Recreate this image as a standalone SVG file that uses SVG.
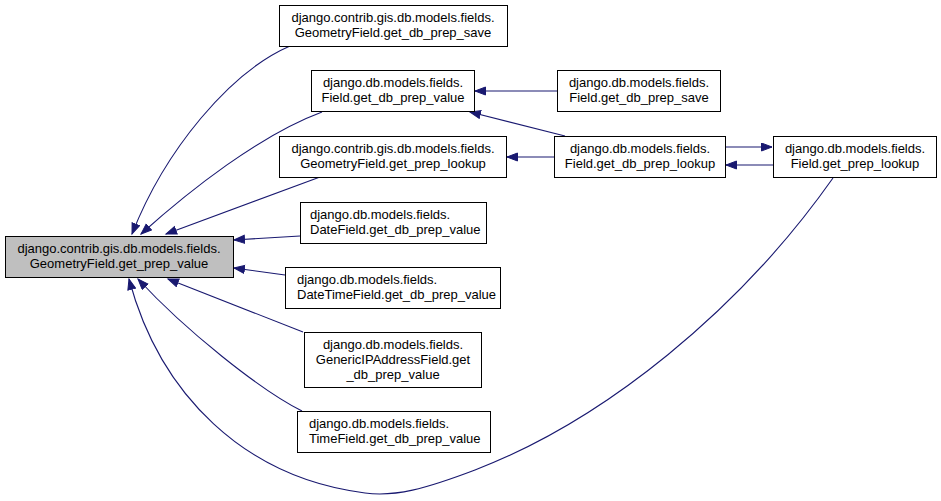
<svg xmlns="http://www.w3.org/2000/svg" width="941" height="501" viewBox="0 0 941 501">
<defs>
<style>
.n rect{fill:#fff;stroke:#000;stroke-width:1}
.n.main rect{fill:#bfbfbf}
.n text{font-family:"Liberation Sans",Arial,sans-serif;font-size:13px;fill:#000}
.c text{text-anchor:middle}
.e path{fill:none;stroke:#191970;stroke-width:1.1;marker-end:url(#ah)}
</style>
<marker id="ah" markerUnits="userSpaceOnUse" markerWidth="13" markerHeight="11" refX="11" refY="4.5" orient="auto">
<path d="M0.5,0.5 L11,4.5 L0.5,8.5 z" fill="#191970" stroke="#191970" stroke-width="1"/>
</marker>
</defs>
<rect width="941" height="501" fill="#fff"/>
<g id="edges" class="e">
<path d="M290,46 C230,72 165,150 132,234"/>
<path d="M322,112 C260,135 190,190 141,234"/>
<path d="M320,177 L166,234"/>
<path d="M300,236 L234,240"/>
<path d="M285,275 L234,268"/>
<path d="M303,332 L168,279"/>
<path d="M302,411 C260,390 185,330 138,279"/>
<path d="M833,178 C740,310 605,420 475,470 C425,489 395,497 365,493 C245,478 160,395 129,279"/>
<path d="M557,91 L475,91"/>
<path d="M565,136 L470,112"/>
<path d="M554,157 L507,157"/>
<path d="M725,147 L772,147"/>
<path d="M773,165 L726,165"/>
</g>
<g id="main" class="n main c"><rect x="5.5" y="236.5" width="228" height="41"/><text x="119" y="253">django.contrib.gis.db.models.fields.</text><text x="119" y="268">GeometryField.get_prep_value</text></g>
<g id="nodeA" class="n c"><rect x="279.5" y="5.5" width="228" height="41"/><text x="393" y="22">django.contrib.gis.db.models.fields.</text><text x="393" y="37">GeometryField.get_db_prep_save</text></g>
<g id="nodeB" class="n c"><rect x="311.5" y="70.5" width="163" height="41"/><text x="393" y="87">django.db.models.fields.</text><text x="393" y="102">Field.get_db_prep_value</text></g>
<g id="nodeC" class="n c"><rect x="279.5" y="136.5" width="227" height="41"/><text x="393" y="153">django.contrib.gis.db.models.fields.</text><text x="393" y="168">GeometryField.get_prep_lookup</text></g>
<g id="nodeD" class="n c"><rect x="557.5" y="70.5" width="163" height="41"/><text x="639" y="87">django.db.models.fields.</text><text x="639" y="102">Field.get_db_prep_save</text></g>
<g id="nodeE" class="n c"><rect x="554.5" y="136.5" width="171" height="41"/><text x="640" y="153">django.db.models.fields.</text><text x="640" y="168">Field.get_db_prep_lookup</text></g>
<g id="nodeF" class="n c"><rect x="773.5" y="136.5" width="163" height="41"/><text x="855" y="153">django.db.models.fields.</text><text x="855" y="168">Field.get_prep_lookup</text></g>
<g id="nodeG" class="n"><rect x="300.5" y="202.5" width="186" height="41"/><text x="310" y="219">django.db.models.fields.</text><text x="310" y="234">DateField.get_db_prep_value</text></g>
<g id="nodeH" class="n"><rect x="285.5" y="267.5" width="215" height="41"/><text x="297" y="284">django.db.models.fields.</text><text x="297" y="299">DateTimeField.get_db_prep_value</text></g>
<g id="nodeI" class="n c"><rect x="304.5" y="332.5" width="177" height="55"/><text x="393" y="349">django.db.models.fields.</text><text x="393" y="364">GenericIPAddressField.get</text><text x="393" y="379">_db_prep_value</text></g>
<g id="nodeJ" class="n"><rect x="297.5" y="411.5" width="193" height="41"/><text x="309" y="428">django.db.models.fields.</text><text x="309" y="443">TimeField.get_db_prep_value</text></g>
</svg>
